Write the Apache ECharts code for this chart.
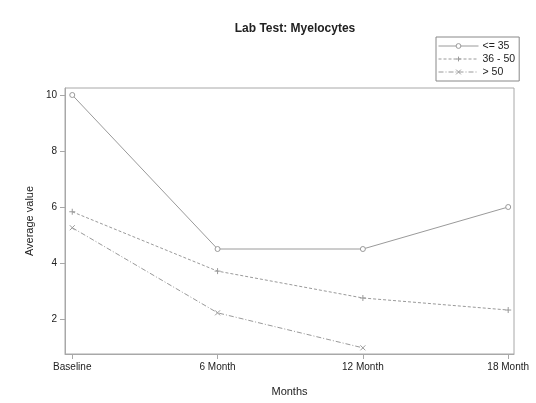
<!DOCTYPE html>
<html>
<head>
<meta charset="utf-8">
<script src="https://cdn.jsdelivr.net/npm/echarts@6/dist/echarts.min.js"></script>
<style>
  html, body { margin: 0; padding: 0; background: #fff; }
  #chart { width: 536px; height: 403px; }
</style>
</head>
<body>
<div id="chart"></div>
<script>
// Visit categories along the x axis
const visits = ['Baseline', '6 Month', '12 Month', '18 Month'];
// Average myelocyte values per age group
const groupLow = [10, 4.5, 4.5, 6];        // <= 35
const groupMid = [5.83, 3.71, 2.75, 2.32]; // 36 - 50
const groupHigh = [5.26, 2.22, 0.97];      // > 50
const seriesNames = ['<= 35', '36 - 50', '> 50'];
const yTicks = [2, 4, 6, 8, 10];

const lineColor = '#9a9a9a';
const axisColor = '#a8a8a8';
const textColor = '#222';
const font = 'Liberation Sans, Arial, sans-serif';

const plusPath = 'path://M0,5L10,5M5,0L5,10';
const crossPath = 'path://M0,0L10,10M10,0L0,10';

function toPoints(arr) {
  return arr.map((v, i) => [i, v]);
}

const chart = echarts.init(document.getElementById('chart'), null, { renderer: 'canvas' });

chart.setOption({
  animation: false,
  backgroundColor: '#fff',
  title: {
    text: 'Lab Test: Myelocytes',
    left: 290,
    top: 18,
    textAlign: 'center',
    textStyle: { fontFamily: font, fontSize: 12, fontWeight: 'bold', color: textColor }
  },
  legend: {
    orient: 'vertical',
    left: 436,
    top: 37,
    width: 80,
    padding: [3, 4, 3, 2],
    itemGap: 1,
    itemWidth: 40,
    itemHeight: 6,
    borderColor: '#888',
    borderWidth: 1,
    lineStyle: { width: 1 },
    itemStyle: { borderWidth: 1 },
    data: seriesNames,
    textStyle: { fontFamily: font, fontSize: 10.5, lineHeight: 12, color: textColor, padding: [0, 0, 0, -1] }
  },
  grid: {
    left: 65,
    right: 22,
    top: 88,
    bottom: 49,
    show: true,
    borderColor: axisColor,
    borderWidth: 1,
    containLabel: false
  },
  xAxis: {
    type: 'value',
    min: -0.05,
    max: 3.04,
    interval: 1,
    name: 'Months',
    nameLocation: 'middle',
    nameGap: 32,
    nameTextStyle: { fontFamily: font, fontSize: 11, color: textColor },
    axisLine: { show: true, onZero: false, lineStyle: { color: axisColor, width: 1 } },
    axisTick: {
      show: true, length: 5, inside: false,
      lineStyle: { color: axisColor },
      customValues: [0, 1, 2, 3]
    },
    axisLabel: {
      fontFamily: font, fontSize: 10, color: textColor, margin: 8,
      customValues: [0, 1, 2, 3],
      formatter: v => visits[Math.round(v)]
    },
    splitLine: { show: false }
  },
  yAxis: {
    type: 'value',
    min: 0.75,
    max: 10.25,
    name: 'Average value',
    nameLocation: 'middle',
    nameGap: 30,
    nameTextStyle: { fontFamily: font, fontSize: 11, color: textColor },
    axisLine: { show: true, onZero: false, lineStyle: { color: axisColor, width: 1 } },
    axisTick: {
      show: true, length: 5,
      lineStyle: { color: axisColor },
      customValues: yTicks
    },
    axisLabel: {
      fontFamily: font, fontSize: 10, color: textColor, margin: 8,
      customValues: yTicks
    },
    splitLine: { show: false }
  },
  series: [
    {
      name: seriesNames[0],
      type: 'line',
      data: toPoints(groupLow),
      symbol: 'circle',
      symbolSize: 5,
      lineStyle: { color: lineColor, width: 1, type: 'solid' },
      itemStyle: { color: '#fff', borderColor: lineColor, borderWidth: 1 }
    },
    {
      name: seriesNames[1],
      type: 'line',
      data: toPoints(groupMid),
      symbol: plusPath,
      symbolSize: 6,
      lineStyle: { color: lineColor, width: 1, type: [3, 2] },
      itemStyle: { color: 'rgba(0,0,0,0)', borderColor: lineColor, borderWidth: 1 }
    },
    {
      name: seriesNames[2],
      type: 'line',
      data: toPoints(groupHigh),
      symbol: crossPath,
      symbolSize: 5,
      lineStyle: { color: lineColor, width: 1, type: [5, 2, 1, 2] },
      itemStyle: { color: 'rgba(0,0,0,0)', borderColor: lineColor, borderWidth: 1 }
    }
  ]
});
</script>
</body>
</html>
